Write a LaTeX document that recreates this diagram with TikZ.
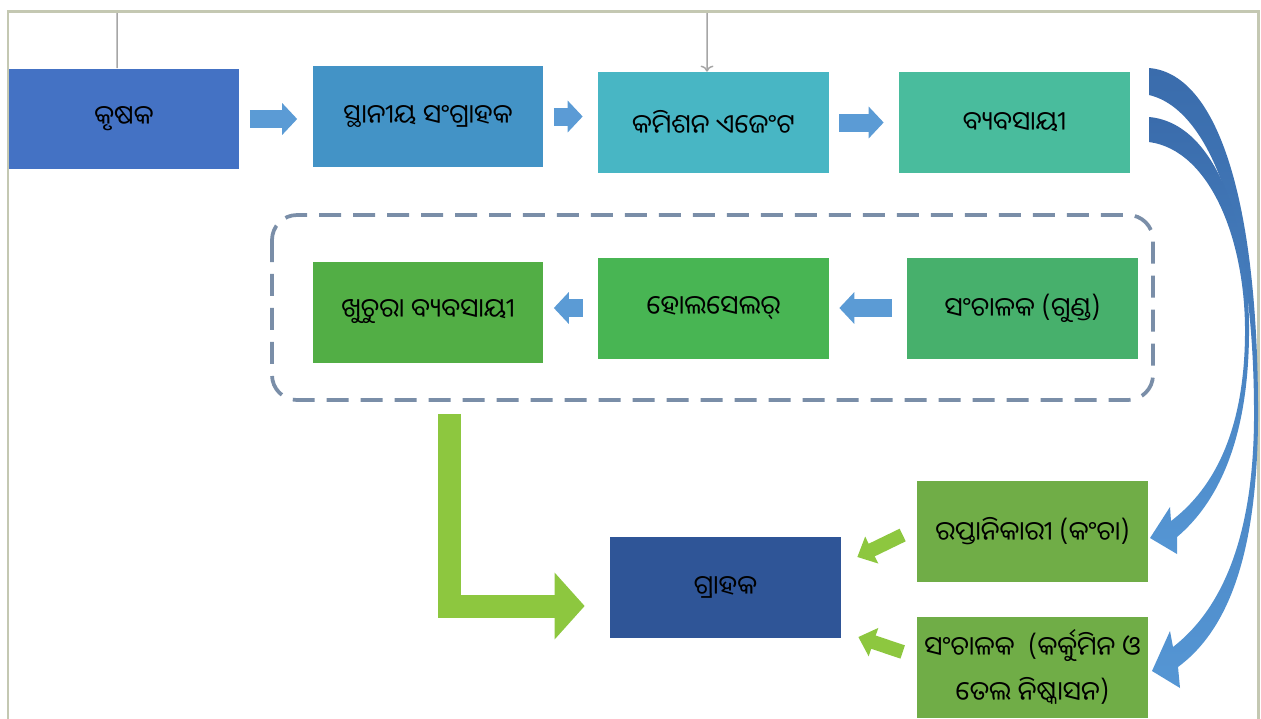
\documentclass[tikz,border=0pt]{standalone}
\usepackage{fontspec}
\usepackage{tikz}
\usetikzlibrary{arrows.meta,calc}
\newfontfamily\odia[Script=Oriya]{Noto Sans Oriya UI}

\definecolor{farmerblue}{RGB}{68,114,196}
\definecolor{collectblue}{RGB}{67,147,198}
\definecolor{agentteal}{RGB}{72,182,196}
\definecolor{tradeteal}{RGB}{73,188,157}
\definecolor{retailgreen}{RGB}{82,174,69}
\definecolor{wholegreen}{RGB}{72,181,83}
\definecolor{procgreen}{RGB}{71,176,108}
\definecolor{exportgreen}{RGB}{112,173,71}
\definecolor{buyerblue}{RGB}{47,85,151}
\definecolor{arrowblue}{RGB}{91,155,213}
\definecolor{limegreen}{RGB}{141,199,63}
\definecolor{bandtop}{RGB}{58,108,172}
\definecolor{bandlow}{RGB}{85,150,212}
\definecolor{framegray}{RGB}{196,200,178}
\definecolor{dashgray}{RGB}{122,142,168}

\tikzset{
  stage/.style={minimum width=4.62cm,minimum height=2.02cm,inner sep=2pt,align=center,
    font=\odia\fontsize{15}{26}\selectfont},
  pushright/.style={draw=arrowblue,line width=0.36cm,-{Triangle[length=0.3cm,width=0.62cm]},
    shorten <=0.2cm,shorten >=0.3cm},
  pushleft/.style={draw=arrowblue,line width=0.36cm,-{Triangle[length=0.3cm,width=0.62cm]},
    shorten <=0.3cm,shorten >=0.2cm},
  smallgreen/.style={draw=limegreen,line width=0.28cm,-{Triangle[length=0.32cm,width=0.58cm]}},
}

\begin{document}
\begin{tikzpicture}[x=0.02cm,y=-0.02cm]
\useasboundingbox (0,0) rectangle (1261,718);
\clip (0,0) rectangle (1261,718);
% first row
\node[stage,fill=farmerblue] (krishak) at (124,119) {କୃଷକ};
\node[stage,fill=collectblue] (sthaniya) at (428,116.5) {ସ୍ଥାନୀୟ ସଂଗ୍ରାହକ};
\node[stage,fill=agentteal] (agent) at (713.5,122.5) {କମିଶନ ଏଜେଂଟ};
\node[stage,fill=tradeteal] (byabasayi) at (1014.5,122.5) {ବ୍ୟବସାୟୀ};
% second row
\node[stage,fill=retailgreen] (khuchura) at (428,312) {ଖୁଚୁରା ବ୍ୟବସାୟୀ};
\node[stage,fill=wholegreen] (wholesaler) at (713.5,308) {ହୋଲସେଲର୍};
\node[stage,fill=procgreen] (gunda) at (1022.5,308) {ସଂଚାଳକ (ଗୁଣ୍ଡ)};
% last rows
\node[stage,fill=buyerblue] (grahak) at (725.5,587) {ଗ୍ରାହକ};
\node[stage,fill=exportgreen] (export) at (1032.5,531) {ରପ୍ତାନିକାରୀ (କଂଚା)};
\node[stage,fill=exportgreen] (curcumin) at (1032.5,667) {ସଂଚାଳକ\ \ (କର୍କୁମିନ ଓ\\ତେଲ ନିଷ୍କାସନ)};

\coordinate (topline) at (0,11);
\draw[gray!70,line width=0.03cm,->] ([xshift=-0.14cm]krishak.north) |- (topline -| 707,0) -- ([xshift=-0.13cm]agent.north);
\draw[framegray,line width=0.06cm] (8,730) |- (1258,11) -- (1258,730);

\draw[pushright] (krishak.east) -- (krishak.east -| sthaniya.west);
\draw[pushright] (sthaniya.east) -- (sthaniya.east -| agent.west);
\draw[pushright] (agent.east) -- (agent.east -| byabasayi.west);
\draw[pushleft] (gunda.west) -- (gunda.west -| wholesaler.east);
\draw[pushleft] (wholesaler.west) -- (wholesaler.west -| khuchura.east);

\draw[dashgray,line width=0.075cm,dash pattern=on 0.44cm off 0.24cm,rounded corners=0.5cm]
  (272,215) rectangle (1153,400);

\draw[limegreen,line width=0.46cm,line join=miter,-{Triangle[length=0.6cm,width=1.3cm]}]
  ($(khuchura.south)+(21,51)$) |- ($(grahak.west)+(-25,19)$);
\draw[smallgreen] ($(export.west)+(-14,4)$) -- ($(grahak.east)+(16,-30)$);
\draw[smallgreen] ($(curcumin.west)+(-14,-15)$) -- ($(grahak.east)+(17,50)$);

% curved bands from the trader
\shade[top color=bandtop,bottom color=bandlow]
  (1149,68) .. controls (1222,74) and (1259,215) .. (1258,420)
  .. controls (1257,555) and (1228,630) .. (1178,667)
  -- (1180,688) -- (1152,671) -- (1170,631) -- (1173,647)
  .. controls (1218,612) and (1253,545) .. (1254,420)
  .. controls (1255,235) and (1213,110) .. (1149,95) -- cycle;
\shade[top color=bandtop,bottom color=bandlow]
  (1149,117) .. controls (1216,123) and (1250,225) .. (1249,335)
  .. controls (1248,445) and (1215,505) .. (1177,537)
  -- (1177,554) -- (1150,538) -- (1170,507) -- (1171,521)
  .. controls (1208,493) and (1244,440) .. (1245,335)
  .. controls (1246,240) and (1210,150) .. (1149,142) -- cycle;
\end{tikzpicture}
\end{document}
